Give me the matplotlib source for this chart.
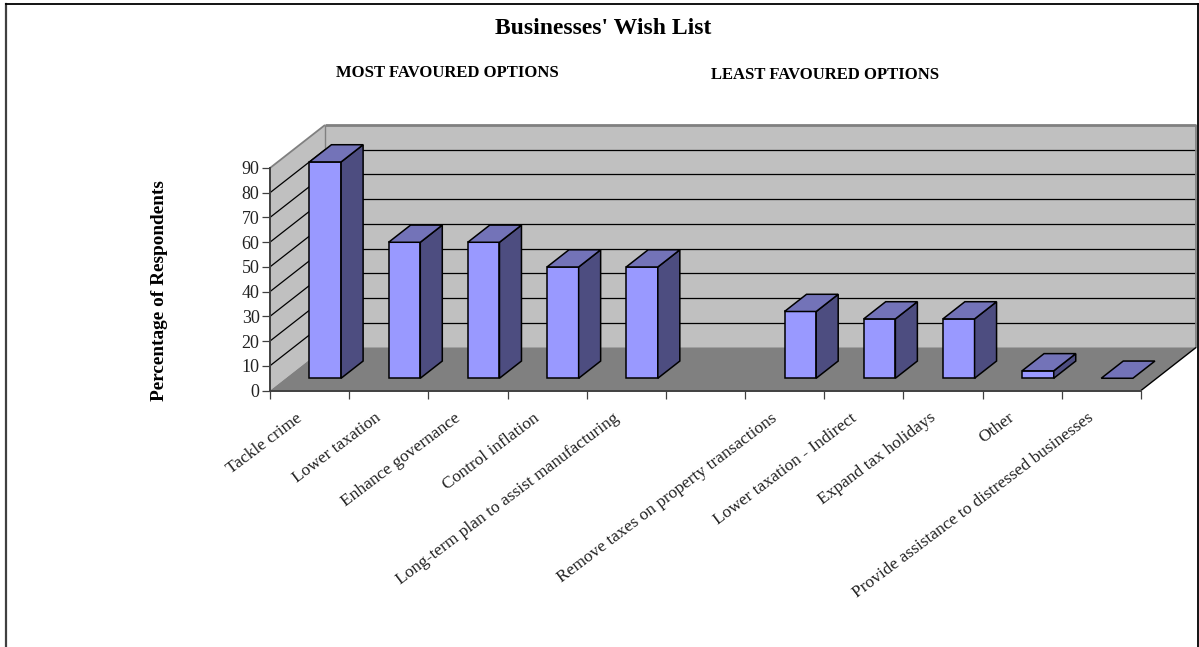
import numpy as np
import matplotlib
matplotlib.use('Agg')
import matplotlib.pyplot as plt
from matplotlib.patches import Polygon
from matplotlib.lines import Line2D
from matplotlib.transforms import ScaledTranslation

plt.rcParams['font.family'] = ['Liberation Serif', 'DejaVu Serif']

# blank slot between the two groups is kept as nan
slots = ['Tackle crime', 'Lower taxation', 'Enhance governance', 'Control inflation',
         'Long-term plan to assist manufacturing', '',
         'Remove taxes on property transactions', 'Lower taxation - Indirect',
         'Expand tax holidays', 'Other', 'Provide assistance to distressed businesses']
values = [87.5, 55, 55, 45, 45, np.nan, 27, 24, 24, 3, 0]
yticks = list(range(0, 100, 10))

W, H = 1199, 647
fig = plt.figure(figsize=(W / 100, H / 100), dpi=100, facecolor='white')
ax = fig.add_axes([270 / W, 1 - 390.5 / H, 871 / W, 222.5 / H])
ax.set_xlim(0, len(slots))
ax.set_ylim(0, 90)
ax.patch.set_visible(False)

# oblique projection: depth d in 0..1 shifts a point right and up
depth_x = 55 / (871 / len(slots))
depth_y = 43 / (222.5 / 90)


def proj(x, y, d):
    return (x + d * depth_x, y + d * depth_y)


def face(pts, color, z, ec='none', lw=0.0):
    p = Polygon([proj(*q) for q in pts], closed=True, facecolor=color,
                edgecolor=ec, linewidth=lw, zorder=z, clip_on=False, joinstyle='miter')
    ax.add_patch(p)


def line3(p0, p1, color='black', lw=0.9, z=2):
    a, b = proj(*p0), proj(*p1)
    ax.plot([a[0], b[0]], [a[1], b[1]], color=color, lw=lw, zorder=z, clip_on=False,
            solid_capstyle='butt')


n = len(slots)
# walls and floor
face([(0, 0, 1), (n, 0, 1), (n, 90, 1), (0, 90, 1)], '#c0c0c0', 1)
face([(0, 0, 0), (0, 0, 1), (0, 90, 1), (0, 90, 0)], '#c0c0c0', 1)
face([(0, 0, 0), (n, 0, 0), (n, 0, 1), (0, 0, 1)], '#808080', 1.5)

for v in yticks[1:-1]:
    line3((0, v, 0), (0, v, 1))
    line3((0, v, 1), (n, v, 1))

# wall outlines
line3((0, 90, 0), (0, 90, 1), color='#808080', lw=1.3)
line3((0, 90, 1), (n, 90, 1), color='#808080', lw=2.0)
line3((n, 90, 1), (n, 0, 1), color='#808080', lw=1.3)
line3((0, 90, 1), (0, 0, 1), color='#808080', lw=1.0)
line3((n, 0, 0), (n, 0, 1), color='black', lw=1.0, z=2)

# bars, left to right
bar_w = 1 / 2.5
d0, d1 = 0.285, 0.685
for i, v in enumerate(values):
    if np.isnan(v):
        continue
    x0 = i + 0.5 - bar_w / 2
    x1 = i + 0.5 + bar_w / 2
    z = 3 + i * 0.1
    if v > 0:
        face([(x0, 0, d0), (x1, 0, d0), (x1, v, d0), (x0, v, d0)], '#9999ff', z, 'black', 1.1)
        face([(x1, 0, d0), (x1, 0, d1), (x1, v, d1), (x1, v, d0)], '#4d4d80', z, 'black', 1.1)
    face([(x0, v, d0), (x1, v, d0), (x1, v, d1), (x0, v, d1)], '#7373b8', z, 'black', 1.1)

for s in ['top', 'right']:
    ax.spines[s].set_visible(False)
for s in ['left', 'bottom']:
    ax.spines[s].set_color('#404040')
    ax.spines[s].set_linewidth(1.4)
    ax.spines[s].set_zorder(2.5)

ax.set_yticks(yticks)
ax.tick_params(axis='y', length=6, width=0.9, color='#404040', labelsize=13, pad=1.5,
               labelcolor='#222222')
ax.set_xticks(np.arange(n + 1))
ax.set_xticklabels([])
ax.tick_params(axis='x', which='major', length=6, width=0.9, color='#404040')
ax.set_xticks(np.arange(n) + 0.5, minor=True)
ax.set_xticklabels(slots, minor=True, rotation=37, ha='right', va='top',
                   rotation_mode='anchor', fontsize=12.5, color='#222222')
ax.tick_params(axis='x', which='minor', length=0, pad=14)
# rotated labels sit a little left of the slot centre
nudge = ScaledTranslation(-14 / 100, 0, fig.dpi_scale_trans)
for lab in ax.get_xticklabels(minor=True):
    lab.set_transform(lab.get_transform() + nudge)

fig.text(603.5 / W, 1 - 28 / H, "Businesses' Wish List", fontsize=17, fontweight='bold',
         ha='center', va='center')
fig.text(447 / W, 1 - 73 / H, 'MOST FAVOURED OPTIONS', fontsize=12, fontweight='bold',
         ha='center', va='center')
fig.text(825 / W, 1 - 75 / H, 'LEAST FAVOURED OPTIONS', fontsize=12, fontweight='bold',
         ha='center', va='center')
fig.text(159 / W, 1 - 291 / H, 'Percentage of Respondents', fontsize=13.9, fontweight='bold',
         rotation=90, ha='center', va='center')

# chart frame, runs off the bottom
fig.add_artist(Line2D([6 / W, 6 / W], [0, 1 - 4 / H], color='#404040', lw=1.6))
fig.add_artist(Line2D([6 / W, 1197.5 / W], [1 - 4 / H, 1 - 4 / H], color='black', lw=1.3))
fig.add_artist(Line2D([1197.5 / W, 1197.5 / W], [0, 1 - 4 / H], color='black', lw=1.3))

fig.savefig('out.png', dpi=100)
